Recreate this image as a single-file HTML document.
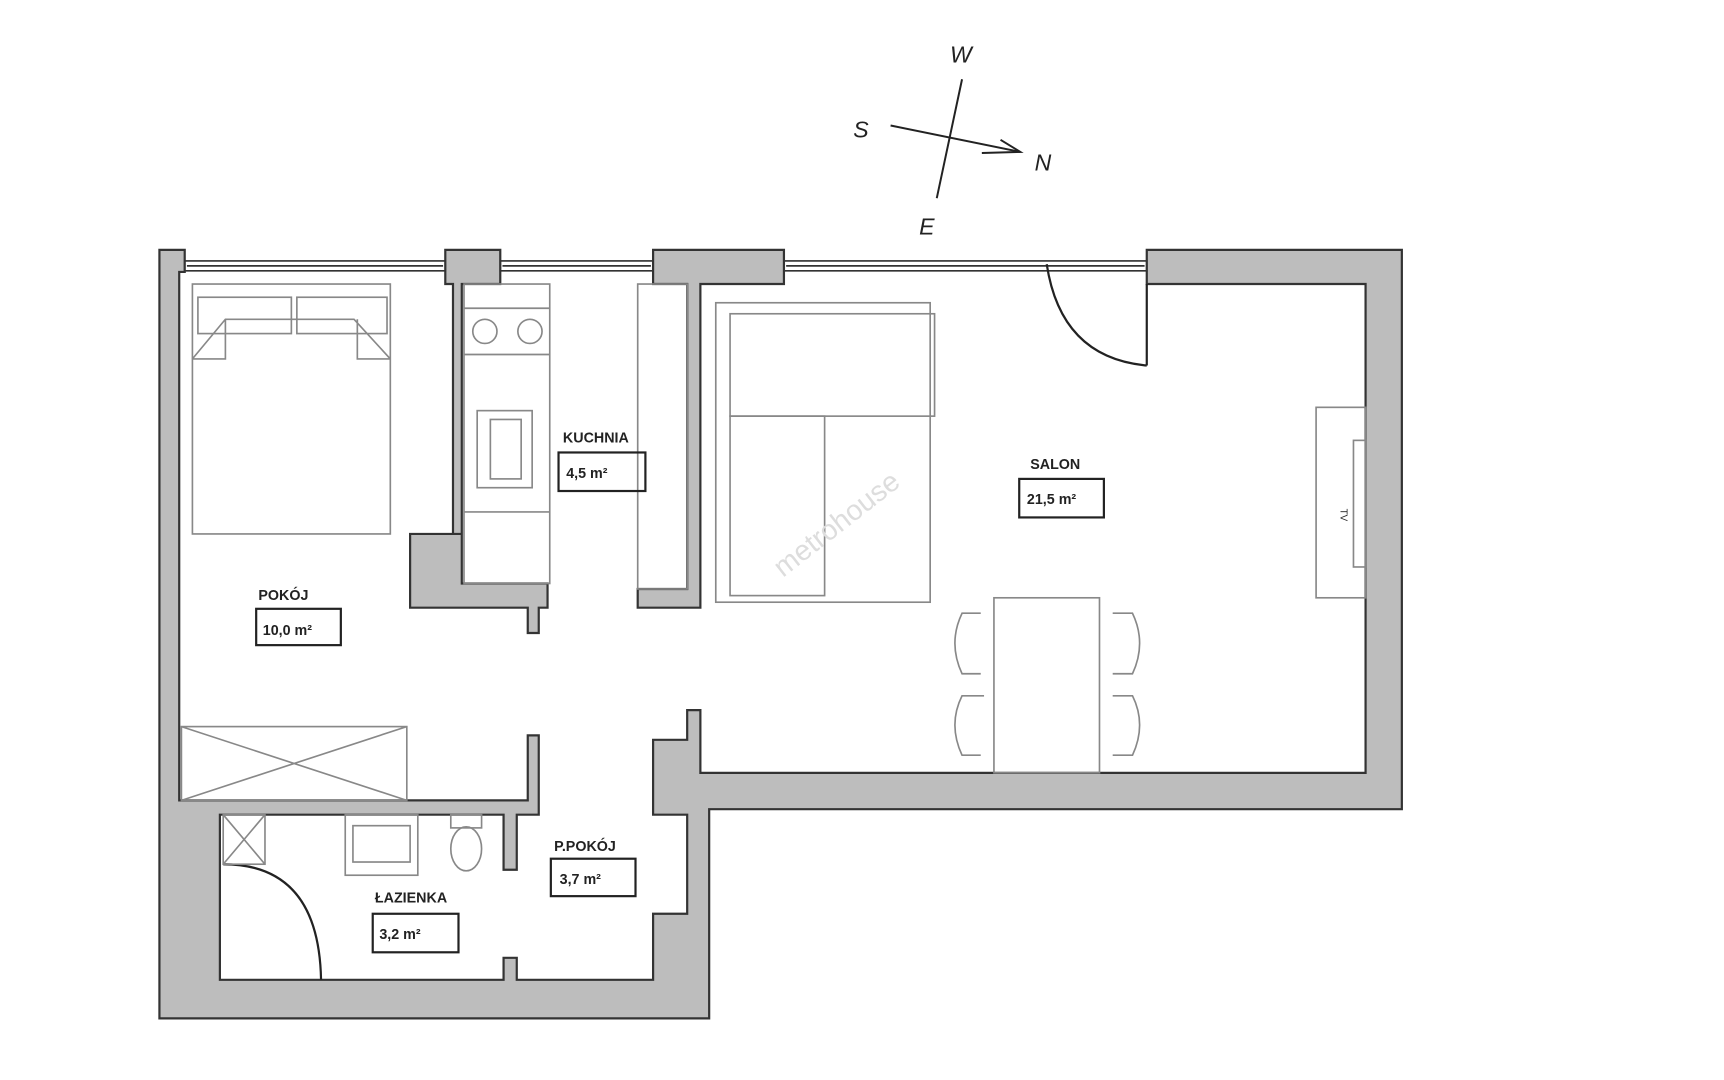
<!DOCTYPE html>
<html><head><meta charset="utf-8"><style>
html,body{margin:0;padding:0;background:#fff;}
svg{display:block;}
text{font-family:"Liberation Sans",sans-serif;fill:#222;}
</style></head><body>
<svg width="1724" height="1080" viewBox="0 0 1568 981" preserveAspectRatio="none" xmlns="http://www.w3.org/2000/svg">
<g fill="#bdbdbd" stroke="#333" stroke-width="2" stroke-linejoin="miter">
<path d="M145,227 H168 V247 H163 V727 H480 V668 H490 V740 H470 V790 H458 V740 H200 V890 H458 V870 H470 V890 H594 V830 H625 V740 H594 V672 H625 V645 H637 V702 H1242 V258 H1043 V227 H1275 V735 H645 V925 H145 Z"/>
<path d="M405,227 H455 V258 H420 V485 H373 V552 H480 V575 H490 V552 H498 V530 H420 V485 H412 V258 H405 Z"/>
<path d="M594,227 H713 V258 H637 V552 H580 V535 H625 V258 H594 Z"/>
</g>
<g fill="none" stroke="#333" stroke-width="1.5">
<rect x="168" y="237" width="237" height="9"/><line x1="170" y1="241.5" x2="403" y2="241.5"/>
<rect x="455" y="237" width="139" height="9"/><line x1="457" y1="241.5" x2="592" y2="241.5"/>
<rect x="713" y="237" width="330" height="9"/><line x1="715" y1="241.5" x2="1041" y2="241.5"/>
</g>
<g fill="none" stroke="#222" stroke-width="2">
<line x1="1043" y1="258" x2="1043" y2="332"/>
<path d="M1043,332 Q965,325 952,240"/>
<path d="M203,785 Q290,785 292,890"/>
</g>
<g fill="none" stroke="#888" stroke-width="1.5">
<rect x="175" y="258" width="180" height="227"/>
<rect x="180" y="270" width="85" height="33"/><rect x="270" y="270" width="82" height="33"/>
<path d="M175,326 L205,290 H322 L355,326 M175,326 H205 V290 M355,326 H325 V290"/>
<rect x="422" y="258" width="78" height="272"/>
<line x1="422" y1="280" x2="500" y2="280"/><line x1="422" y1="322" x2="500" y2="322"/><line x1="422" y1="465" x2="500" y2="465"/>
<circle cx="441" cy="301" r="11"/><circle cx="482" cy="301" r="11"/>
<rect x="434" y="373" width="50" height="70"/><rect x="446" y="381" width="28" height="54"/>
<rect x="580" y="258" width="45" height="277"/>
<rect x="651" y="275" width="195" height="272"/>
<rect x="664" y="285" width="186" height="93"/>
<rect x="664" y="378" width="86" height="163"/>
<rect x="1197" y="370" width="45" height="173"/><rect x="1231" y="400" width="11" height="115"/>
<rect x="904" y="543" width="96" height="159"/>
<path d="M892,557 H875 Q862,584 875,612 H892 M895,632 H875 Q862,658 875,686 H892"/>
<path d="M1012,557 H1030 Q1043,584 1030,612 H1012 M1012,632 H1030 Q1043,658 1030,686 H1012"/>
<rect x="165" y="660" width="205" height="67"/>
<path d="M165,660 L370,727 M370,660 L165,727"/>
<rect x="203" y="740" width="38" height="45"/><path d="M203,740 L241,785 M241,740 L203,785"/>
<rect x="314" y="740" width="66" height="55"/><rect x="321" y="750" width="52" height="33"/>
<rect x="410" y="740" width="28" height="12"/><ellipse cx="424" cy="771" rx="14" ry="20"/>
</g>
<text x="1215" y="466" font-size="9" fill="#777" transform="rotate(90 1219 466)">TV</text>
<text x="712" y="525" font-size="26" style="fill:#ddd" transform="rotate(-38 712 525)">metrohouse</text>
<g font-size="13" font-weight="bold">
<text x="512" y="402">KUCHNIA</text>
<rect x="508" y="411" width="79" height="35" fill="none" stroke="#222" stroke-width="2"/>
<text x="515" y="434">4,5 m²</text>
<text x="937" y="426">SALON</text>
<rect x="927" y="435" width="77" height="35" fill="none" stroke="#222" stroke-width="2"/>
<text x="934" y="458">21,5 m²</text>
<text x="235" y="545">POKÓJ</text>
<rect x="233" y="553" width="77" height="33" fill="none" stroke="#222" stroke-width="2"/>
<text x="239" y="577">10,0 m²</text>
<text x="504" y="773">P.POKÓJ</text>
<rect x="501" y="780" width="77" height="34" fill="none" stroke="#222" stroke-width="2"/>
<text x="509" y="803">3,7 m²</text>
<text x="341" y="820">ŁAZIENKA</text>
<rect x="339" y="830" width="78" height="35" fill="none" stroke="#222" stroke-width="2"/>
<text x="345" y="853">3,2 m²</text>
</g>
<g stroke="#222" stroke-width="1.8" fill="none">
<line x1="875" y1="72" x2="852" y2="180"/>
<line x1="810" y1="114" x2="928" y2="138"/>
<path d="M910,127 L928,138 L893,139"/>
</g>
<g font-size="21" font-style="italic">
<text x="864" y="57">W</text><text x="776" y="125">S</text><text x="941" y="155">N</text><text x="836" y="213">E</text>
</g>
</svg>
</body></html>
